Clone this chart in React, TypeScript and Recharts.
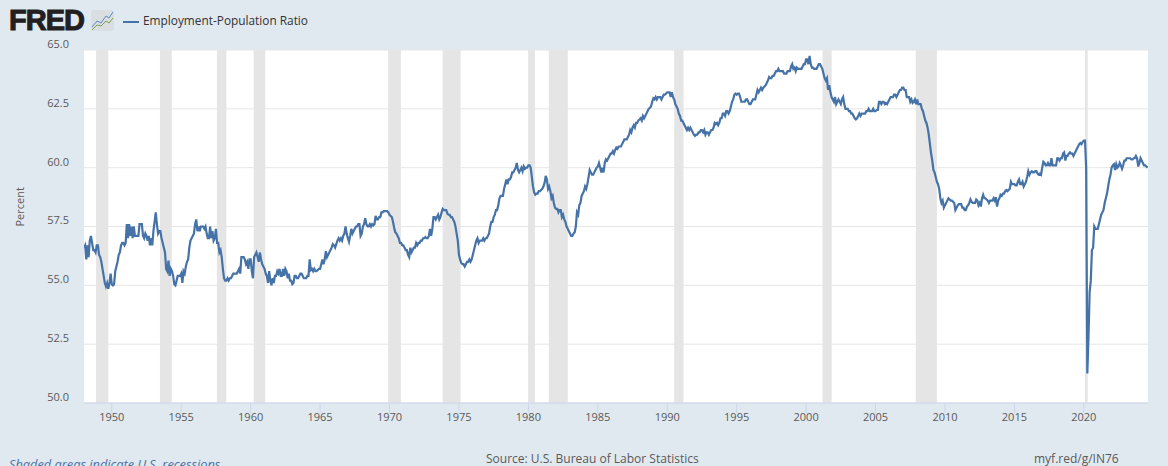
import React from 'react';
import { LineChart, Line, XAxis, YAxis, CartesianGrid, ReferenceArea, Legend } from 'recharts';

const firstYear = 1948;
// monthly values, one row per year
const ratioRows: number[][] = [
  [56.6, 56.7, 56.1, 56.7, 56.2, 56.9, 57.1, 56.8, 56.5, 56.5, 56.4, 56.7],
  [56.7, 56.3, 56.2, 56.0, 55.7, 55.4, 55.1, 54.95, 55.1, 54.85, 55.1, 55.5],
  [55.05, 55.0, 55.05, 55.6, 55.8, 56.0, 56.3, 56.4, 56.7, 56.8, 56.8, 56.7],
  [56.8, 57.6, 57.0, 57.6, 57.1, 57.5, 57.0, 57.5, 57.1, 57.1, 57.1, 57.1],
  [57.6, 57.6, 57.6, 57.1, 57.0, 57.2, 57.1, 56.9, 57.1, 56.7, 57.0, 56.7],
  [57.3, 57.7, 58.1, 57.6, 57.2, 57.3, 57.3, 57.0, 56.8, 56.6, 56.4, 55.7],
  [55.6, 56.05, 55.4, 55.7, 55.6, 55.4, 55.05, 55.0, 55.2, 55.4, 55.4, 55.4],
  [55.5, 55.1, 55.6, 55.5, 55.8, 56.0, 56.1, 56.6, 56.9, 57.0, 57.1, 57.2],
  [57.6, 57.8, 57.3, 57.5, 57.3, 57.5, 57.5, 57.5, 57.4, 57.5, 57.2, 57.0],
  [57.0, 57.5, 57.0, 57.3, 56.9, 57.0, 57.4, 56.8, 56.8, 56.4, 56.5, 56.2],
  [55.7, 55.3, 55.2, 55.2, 55.3, 55.2, 55.3, 55.3, 55.4, 55.5, 55.5, 55.5],
  [55.5, 55.6, 55.7, 55.5, 56.2, 56.2, 56.2, 56.1, 55.9, 56.0, 55.7, 56.1],
  [56.1, 55.6, 55.3, 56.2, 56.3, 56.4, 56.2, 56.0, 56.4, 56.1, 55.9, 55.8],
  [55.7, 55.5, 55.4, 55.1, 55.6, 55.2, 55.0, 55.3, 55.1, 55.4, 55.4, 55.6],
  [55.5, 55.7, 55.4, 55.4, 55.7, 55.4, 55.7, 55.6, 55.3, 55.5, 55.2, 55.2],
  [55.05, 55.1, 55.4, 55.4, 55.3, 55.3, 55.4, 55.5, 55.5, 55.4, 55.3, 55.3],
  [55.3, 55.4, 55.4, 56.1, 55.65, 55.7, 55.6, 55.7, 55.6, 55.6, 55.65, 55.7],
  [55.7, 55.9, 56.1, 55.9, 56.1, 56.45, 56.2, 56.3, 56.4, 56.5, 56.6, 56.75],
  [56.7, 56.6, 56.75, 56.9, 57.0, 56.9, 57.0, 56.9, 57.1, 57.2, 57.5, 57.2],
  [57.0, 56.85, 57.1, 57.4, 57.2, 57.3, 57.4, 57.5, 57.5, 57.6, 57.6, 57.1],
  [57.2, 57.5, 57.6, 57.85, 57.6, 57.5, 57.5, 57.6, 57.5, 57.6, 57.55, 57.6],
  [57.95, 57.8, 57.8, 57.9, 57.9, 58.1, 58.1, 58.15, 58.15, 58.15, 58.15, 58.1],
  [58.0, 57.95, 57.9, 57.7, 57.45, 57.25, 57.2, 57.1, 57.0, 56.8, 56.8, 56.7],
  [56.7, 56.6, 56.5, 56.5, 56.3, 56.2, 56.6, 56.4, 56.5, 56.6, 56.6, 56.8],
  [56.7, 56.8, 56.8, 56.9, 56.9, 57.0, 57.0, 57.05, 57.0, 57.0, 57.1, 57.4],
  [57.1, 57.4, 57.9, 57.9, 57.8, 57.9, 58.0, 57.8, 57.9, 58.1, 58.25, 58.2],
  [58.2, 58.2, 58.05, 58.0, 58.0, 57.9, 57.9, 57.8, 57.7, 57.5, 57.2, 56.9],
  [56.3, 56.1, 55.95, 55.9, 55.9, 55.8, 55.9, 56.0, 56.0, 56.1, 56.0, 56.1],
  [56.3, 56.5, 56.7, 56.9, 57.0, 56.8, 56.9, 56.9, 56.9, 57.0, 56.9, 57.0],
  [57.0, 57.1, 57.2, 57.5, 57.7, 57.7, 57.9, 58.0, 58.2, 58.2, 58.4, 58.7],
  [58.8, 58.8, 58.8, 59.1, 59.3, 59.5, 59.3, 59.5, 59.5, 59.6, 59.8, 59.8],
  [59.9, 60.0, 60.2, 59.9, 59.8, 59.9, 60.0, 59.85, 60.05, 59.95, 60.0, 60.0],
  [60.1, 60.1, 60.0, 59.6, 59.2, 58.95, 58.85, 58.9, 58.9, 59.0, 59.0, 59.05],
  [59.1, 59.2, 59.35, 59.65, 59.5, 59.1, 59.2, 59.0, 58.7, 58.8, 58.5, 58.3],
  [58.25, 58.25, 58.1, 58.2, 58.2, 57.9, 58.0, 57.8, 57.7, 57.5, 57.4, 57.3],
  [57.2, 57.1, 57.1, 57.2, 57.25, 57.5, 58.1, 58.0, 58.4, 58.5, 58.8, 58.9],
  [59.0, 59.2, 59.1, 59.3, 59.6, 59.9, 59.8, 59.7, 59.7, 59.8, 59.9, 60.0],
  [60.05, 60.2, 60.0, 59.8, 60.0, 59.8, 60.2, 60.35, 60.3, 60.4, 60.5, 60.6],
  [60.6, 60.7, 60.6, 60.75, 60.85, 60.8, 60.9, 60.9, 60.9, 61.0, 61.1, 61.2],
  [61.2, 61.2, 61.3, 61.4, 61.6, 61.5, 61.7, 61.8, 61.7, 61.9, 61.9, 62.0],
  [62.05, 62.1, 62.0, 62.2, 62.1, 62.2, 62.3, 62.4, 62.5, 62.55, 62.6, 62.8],
  [62.95, 62.9, 63.0, 62.9, 63.0, 63.0, 63.0, 62.9, 63.0, 63.1, 63.1, 63.15],
  [63.2, 63.2, 63.2, 63.0, 63.2, 63.0, 62.9, 62.7, 62.6, 62.5, 62.3, 62.2],
  [62.0, 62.0, 61.9, 61.8, 61.7, 61.6, 61.7, 61.6, 61.7, 61.6, 61.5, 61.4],
  [61.35, 61.4, 61.4, 61.5, 61.5, 61.6, 61.6, 61.5, 61.6, 61.4, 61.5, 61.5],
  [61.4, 61.5, 61.6, 61.6, 61.7, 61.9, 61.85, 61.9, 61.8, 61.9, 62.1, 62.1],
  [62.3, 62.3, 62.2, 62.4, 62.4, 62.3, 62.4, 62.6, 62.8, 62.9, 63.1, 63.15],
  [63.1, 63.15, 63.15, 63.0, 62.8, 62.8, 62.8, 62.8, 62.9, 62.9, 62.8, 62.7],
  [62.7, 62.8, 62.9, 62.9, 62.9, 63.1, 63.3, 63.2, 63.3, 63.4, 63.3, 63.4],
  [63.45, 63.5, 63.6, 63.7, 63.85, 63.8, 63.8, 63.9, 63.9, 64.0, 64.1, 64.1],
  [64.2, 64.1, 64.1, 64.1, 64.1, 64.0, 64.0, 64.0, 64.1, 64.1, 64.1, 64.3],
  [64.4, 64.2, 64.25, 64.1, 64.25, 64.2, 64.2, 64.2, 64.2, 64.3, 64.4, 64.4],
  [64.6, 64.6, 64.4, 64.75, 64.4, 64.25, 64.25, 64.2, 64.2, 64.2, 64.3, 64.4],
  [64.4, 64.3, 64.2, 64.0, 63.8, 63.7, 63.8, 63.3, 63.5, 63.2, 63.0, 62.9],
  [62.8, 63.0, 62.7, 62.8, 62.9, 62.8, 62.7, 62.9, 63.0, 62.7, 62.5, 62.5],
  [62.5, 62.4, 62.4, 62.3, 62.3, 62.2, 62.1, 62.05, 62.1, 62.2, 62.3, 62.2],
  [62.3, 62.3, 62.3, 62.3, 62.4, 62.4, 62.5, 62.4, 62.4, 62.4, 62.5, 62.4],
  [62.4, 62.45, 62.45, 62.8, 62.8, 62.7, 62.8, 62.8, 62.7, 62.75, 62.7, 62.8],
  [62.9, 63.0, 63.0, 63.0, 63.1, 63.1, 63.0, 63.1, 63.2, 63.3, 63.3, 63.4],
  [63.4, 63.3, 63.3, 63.0, 63.0, 63.0, 62.8, 62.9, 62.75, 62.8, 62.9, 62.7],
  [62.9, 62.7, 62.7, 62.7, 62.5, 62.4, 62.2, 62.0, 61.9, 61.7, 61.4, 61.0],
  [60.6, 60.3, 59.9, 59.8, 59.6, 59.4, 59.3, 59.1, 58.7, 58.5, 58.6, 58.3],
  [58.4, 58.5, 58.6, 58.7, 58.65, 58.6, 58.6, 58.55, 58.5, 58.2, 58.3, 58.4],
  [58.45, 58.45, 58.45, 58.3, 58.3, 58.2, 58.2, 58.35, 58.4, 58.5, 58.65, 58.55],
  [58.5, 58.5, 58.5, 58.65, 58.6, 58.4, 58.5, 58.35, 58.7, 58.85, 58.7, 58.7],
  [58.65, 58.6, 58.5, 58.6, 58.6, 58.6, 58.7, 58.6, 58.75, 58.35, 58.6, 58.7],
  [58.85, 58.8, 58.9, 58.9, 59.0, 59.05, 59.0, 59.05, 59.1, 59.4, 59.3, 59.3],
  [59.3, 59.25, 59.25, 59.4, 59.5, 59.3, 59.3, 59.4, 59.2, 59.3, 59.4, 59.6],
  [59.85, 59.7, 59.8, 59.85, 59.8, 59.8, 59.85, 59.85, 59.75, 59.7, 59.75, 59.7],
  [60.0, 60.25, 60.2, 60.1, 60.1, 60.2, 60.1, 60.1, 60.4, 60.1, 60.1, 60.1],
  [60.1, 60.4, 60.4, 60.3, 60.4, 60.4, 60.6, 60.65, 60.3, 60.5, 60.5, 60.6],
  [60.65, 60.6, 60.6, 60.5, 60.6, 60.7, 60.8, 60.9, 61.0, 61.05, 61.0, 61.1],
  [61.15, 61.15, 60.0, 51.25, 52.8, 54.7, 55.2, 56.5, 56.6, 57.5, 57.4, 57.4],
  [57.4, 57.6, 57.8, 58.0, 58.1, 58.2, 58.5, 58.7, 58.9, 59.2, 59.5, 59.7],
  [60.0, 60.1, 60.15, 59.9, 60.15, 60.0, 60.05, 60.2, 60.1, 59.95, 60.1, 60.3],
  [60.3, 60.4, 60.4, 60.4, 60.4, 60.35, 60.35, 60.4, 60.4, 60.5, 60.4, 60.05],
  [60.2, 60.4, 60.3, 60.2, 60.1, 60.1, 60.05, 60.0],
];

const recessionStarts = [1948.87, 1953.47, 1957.57, 1960.22, 1969.9, 1973.83, 1979.98, 1981.47, 1990.5, 2001.18, 2007.9, 2020.08];
const recessionEnds = [1949.75, 1954.32, 1958.25, 1961.05, 1970.82, 1975.12, 1980.47, 1982.84, 1991.17, 2001.84, 2009.42, 2020.28];

const xTicks = [1950, 1955, 1960, 1965, 1970, 1975, 1980, 1985, 1990, 1995, 2000, 2005, 2010, 2015, 2020];
const yTicks = [50, 52.5, 55, 57.5, 60, 62.5, 65];

const chartData = ratioRows.flatMap((row, r) =>
  row.map((ratio, i) => ({ date: firstYear + r + i / 12, ratio }))
);

const font = '"Open Sans", sans-serif';
const textColor = '#595959';

const note: React.CSSProperties = { position: 'absolute', fontFamily: font, fontSize: 12, color: textColor, whiteSpace: 'nowrap' };

const App = () => (
  <div style={{ position: 'relative', width: 1168, height: 466, overflow: 'hidden', background: '#e1e9f0' }}>
    <style>{'body { margin: 0; }'}</style>
    <LineChart width={1168} height={466} data={chartData} margin={{ top: 33, right: 20, bottom: 0, left: 0 }}>
      <CartesianGrid vertical={false} stroke="#e6e6e6" fill="#ffffff" syncWithTicks />
      <XAxis
        dataKey="date"
        type="number"
        domain={[1948, 2024.62]}
        ticks={xTicks}
        height={63}
        allowDataOverflow
        stroke="#ccd6eb"
        tickSize={10}
        tickMargin={0}
        tick={{ fill: textColor, fontSize: 11, fontFamily: font }}
      />
      <YAxis
        type="number"
        domain={[50, 65]}
        ticks={yTicks}
        width={84}
        axisLine={false}
        tickLine={false}
        tickSize={0}
        tickMargin={15}
        tickFormatter={(v: number) => v.toFixed(1)}
        tick={{ fill: textColor, fontSize: 11, fontFamily: font, dy: -6 }}
        label={{ value: 'Percent', angle: -90, position: 'insideLeft', offset: 20, fill: textColor, fontSize: 11, fontFamily: font }}
      />
      {recessionStarts.map((start, i) => (
        <ReferenceArea key={start} x1={start} x2={recessionEnds[i]} fill="#e5e5e5" fillOpacity={1} stroke="none" />
      ))}
      <Legend
        verticalAlign="top"
        align="left"
        iconType="plainline"
        iconSize={16}
        wrapperStyle={{ position: 'absolute', left: 123, top: 12, width: 'auto', height: 17, lineHeight: '17px', fontFamily: font, fontSize: 11.85 }}
        formatter={(value: string) => <span style={{ color: '#333333', fontWeight: 500 }}>{value}</span>}
      />
      <Line
        name="Employment-Population Ratio"
        dataKey="ratio"
        type="linear"
        stroke="#4572a7"
        strokeWidth={2.2}
        dot={false}
        isAnimationActive={false}
      />
    </LineChart>

    <div style={{ position: 'absolute', left: 9, top: 4, fontFamily: '"Liberation Sans", sans-serif', fontWeight: 700, fontSize: 29, letterSpacing: -1, color: '#231f20', WebkitTextStroke: '1px #231f20' }}>FRED</div>
    <svg style={{ position: 'absolute', left: 91, top: 10 }} width={24} height={22}>
      <rect width={23} height={21} rx={2} fill="#d9dee2" />
      <polyline points="1,17 6,11 10,13 15,6 18,8 22,2" fill="none" stroke="#5f8bb8" strokeWidth={1} />
      <polyline points="1,20 6,15 10,16 15,11 18,13 22,8" fill="none" stroke="#7f9f4c" strokeWidth={1} />
    </svg>
    <div style={{ ...note, left: 9, top: 455, fontSize: 12.8, fontStyle: 'italic', color: '#4572a7' }}>Shaded areas indicate U.S. recessions</div>
    <div style={{ ...note, left: 486, top: 450 }}>Source: U.S. Bureau of Labor Statistics</div>
    <div style={{ ...note, left: 1034, top: 450 }}>myf.red/g/IN76</div>
  </div>
);

export default App;
